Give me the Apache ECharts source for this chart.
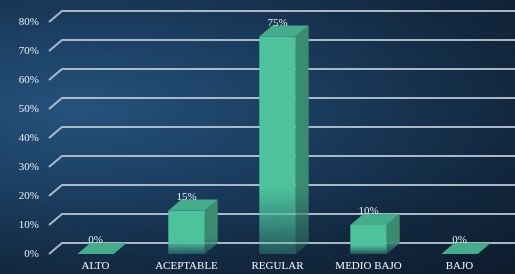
<!DOCTYPE html>
<html>
<head>
<meta charset="utf-8">
<script src="https://cdn.jsdelivr.net/npm/echarts@6/dist/echarts.min.js"></script>
<style>
html, body { margin: 0; padding: 0; }
#main {
	width: 515px; height: 274px;
	background: radial-gradient(ellipse at 15% 40%, #25527c 0%, #1b3e61 35%, #12283f 70%, #0d1b2c 100%);
}
</style>
</head>
<body>
<div id="main"></div>
<script>
var categories = ['ALTO', 'ACEPTABLE', 'REGULAR', 'MEDIO BAJO', 'BAJO'];
var values = [0, 15, 75, 10, 0];
var tickValues = [0, 10, 20, 30, 40, 50, 60, 70, 80];

var chart = echarts.init(document.getElementById('main'));
// depth of the fake 3d
var DX = 13, DY = 11;
var FONT = '"Liberation Serif", "DejaVu Serif", serif';

// back wall grid lines: short diagonal then horizontal
var renderGrid = function(params, api) {
	var cs = params.coordSys;
	var p = api.coord([0, api.value(1)]);
	var x0 = cs.x - 1;
	return {
		type: 'polyline',
		shape: { points: [[x0, p[1]], [x0 + DX, p[1] - DY], [515, p[1] - DY]] },
		style: { stroke: '#b9c6d3', lineWidth: 2, fill: null, opacity: 0.9 },
		silent: true
	};
};

var renderBar = function(params, api) {
	var top = api.coord([api.value(0), api.value(1)]);
	var base = api.coord([api.value(0), 0]);
	var w = api.size([1, 0])[0] * 0.4;
	var l = top[0] - w / 2, r = top[0] + w / 2;
	var yt = top[1], yb = base[1];
	var fade = function(c) {
		return new echarts.graphic.LinearGradient(0, 0, 0, 1, [
			{ offset: 0, color: c },
			{ offset: 0.7, color: c },
			{ offset: 1, color: echarts.color.modifyAlpha(c, 0.3) }
		]);
	};
	var children = [];
	if (yb - yt > 0.5) {
		children.push({
			type: 'polygon',
			shape: { points: [[r, yt], [r + DX, yt - DY], [r + DX, yb - DY], [r, yb]] },
			style: { fill: fade('#3a8c70') }
		});
		children.push({
			type: 'rect',
			shape: { x: l, y: yt, width: w, height: yb - yt },
			style: { fill: fade('#4dc29c') }
		});
	}
	children.push({
		type: 'polygon',
		shape: { points: [[l, yt], [l + DX, yt - DY], [r + DX, yt - DY], [r, yt]] },
		style: { fill: '#45ad8b' }
	});
	children.push({
		type: 'text',
		style: {
			text: api.value(1) + '%',
			x: top[0], y: yt - DY + 3,
			align: 'center', verticalAlign: 'bottom',
			fill: '#e8eef3', font: '11px ' + FONT
		}
	});
	return { type: 'group', children: children };
};

var option = {
	animation: false,
	grid: { left: 50, right: 10, top: 22, bottom: 20 },
	xAxis: {
		type: 'category',
		data: categories,
		axisLine: { show: false },
		axisTick: { show: false },
		axisLabel: { color: '#f2f5f8', fontFamily: FONT, fontSize: 11, margin: 7 }
	},
	yAxis: {
		type: 'value',
		min: 0, max: 80, interval: 10,
		splitLine: { show: false },
		axisLine: { show: false },
		axisTick: { show: false },
		axisLabel: { color: '#e6ecf2', fontFamily: FONT, fontSize: 11, margin: 11, formatter: '{value}%' }
	},
	series: [{
		type: 'custom',
		renderItem: renderGrid,
		data: tickValues.map(function(v) { return [0, v]; }),
		z: 1
	}, {
		type: 'custom',
		renderItem: renderBar,
		data: values.map(function(v, i) { return [i, v]; }),
		z: 2
	}]
};

chart.setOption(option);
</script>
</body>
</html>
